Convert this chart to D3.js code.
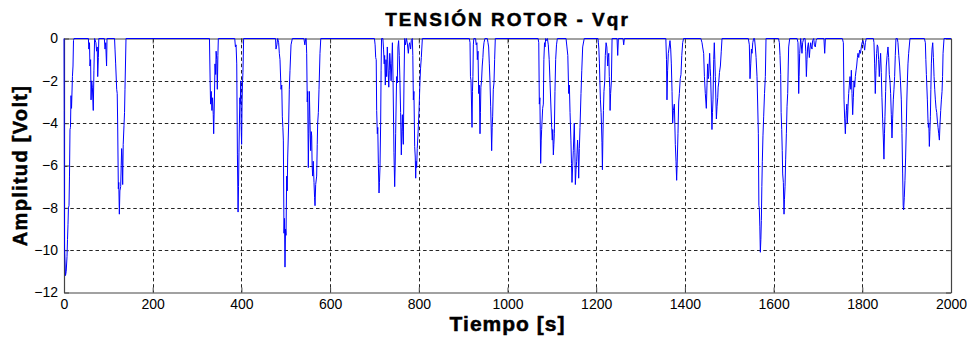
<!DOCTYPE html>
<html>
<head>
<meta charset="utf-8">
<script src="https://cdn.jsdelivr.net/npm/d3@7"></script>
<style>
  html, body { margin: 0; padding: 0; background: #fff; }
  svg { display: block; }
  text { font-family: "Liberation Sans", Arial, Helvetica, sans-serif; }
</style>
</head>
<body>
<svg id="chart" width="967" height="337"></svg>
<script>
// Rotor voltage Vqr samples: time [s] and amplitude [V]
const tiempo = [
  0, 0.5, 1.2, 3.4, 5, 6.8, 7.9, 9, 10, 11.3, 12.4, 13.5, 14.6, 15.8, 17, 19, 20.3, 21.4, 22.5,
  55, 56, 57.5, 58.5, 60, 61, 62.5, 64, 66, 67.5, 69, 72, 73.5, 75, 76, 77.5, 78.5, 91, 92.5, 94, 96, 97,
  114, 115, 116.5, 118.8, 120, 121, 122.5, 123.5, 124.8, 126, 127.8, 129, 130, 131, 132.3, 133.5, 135.3, 136.5, 137.5, 139.8,
  328, 329.5, 330.5, 332, 333.5, 335, 336.5, 337.5, 339, 340.5, 342, 343, 344.5, 345.7, 347, 348,
  385, 386.5, 388, 389.5, 391, 392.5, 393.5, 394.5, 395.5, 396.5, 397.5, 398.5, 399.5, 400.5, 401.5, 402.5, 403.5, 405,
  477, 478, 480, 481.8, 484, 485.5, 487, 489.3, 491, 492.3, 493.5, 494.6, 496, 497.2, 498.3, 499.5, 500.6, 502.1, 503.3, 504.4, 506.6, 508, 509.6, 511.9, 514.9,
  541, 543, 545,
  546, 547.2, 548.5, 549.5, 550.9, 552, 553.2, 554.5, 556.2, 557.5, 558.5, 559.5, 560.7, 562, 563.7, 565, 566, 567.5, 569.7, 571, 572, 573.5, 575, 577.2, 579,
  700, 701.5, 702.8, 704, 705, 706.5, 707.5, 708.8, 710.3, 711.3, 712.5, 714, 715, 716, 719, 720.5, 722, 723, 724.5, 726, 727.5, 729, 730, 732.3, 733.5, 734.5, 736, 737.5, 739, 740.5,
  742, 744, 745.6, 746.7, 747.8, 749, 750, 751.5, 753, 754.5, 756, 757.6, 759, 760.6, 762, 762.9, 764, 765.1, 766.6, 768.1, 770, 772, 774, 776.4, 778, 779.4, 781.6, 783, 785.4,
  786.5, 787.7, 789, 790.7, 792, 793, 794, 795.2, 796.5, 798.2, 800.5, 802.7, 804, 805.7, 808,
  914, 915.5, 916.5, 917.7, 918.8, 920, 921, 922, 923, 924, 928, 929.5, 931, 932, 933.5, 935, 936.5, 938, 939, 940, 941.5, 943, 944.5, 945.5, 947, 949,
  954.5, 956, 957.5, 959, 960.5, 962, 963, 964.3, 965.5, 966.5, 968, 969.5, 971, 972.5,
  1069, 1070.5, 1071.8, 1073, 1074.8, 1076, 1077, 1079.3, 1080.8, 1082, 1083.5, 1084.6, 1086, 1088.3, 1090, 1092, 1094, 1095.8, 1097.5, 1099.6, 1101, 1102, 1103.4, 1104.5, 1105.6, 1107, 1108.6, 1110.5, 1112.4,
  1132, 1134, 1136, 1138, 1139.5, 1141, 1143, 1144.3, 1145.4, 1147, 1148.4, 1150.6, 1152, 1153, 1154.5, 1156, 1158, 1159.5, 1160.5, 1162, 1163.5, 1165.7, 1167.5, 1169.5, 1173,
  1204, 1205, 1206, 1207.3, 1208.5, 1209.5, 1211, 1211.8, 1213, 1214, 1215, 1216.3, 1217.5, 1219.3, 1220.5, 1222.3, 1224, 1226, 1227, 1228.3, 1229.5, 1230.5, 1231.3, 1232.5, 1234.3, 1235.8,
  1247, 1248.5, 1250, 1260.5, 1262, 1263.5,
  1357, 1358.5, 1359.6, 1361, 1362.6, 1364, 1366.4, 1368, 1369.4, 1371, 1372.4, 1374, 1376.2, 1378.4, 1380, 1381.4, 1383, 1384.4, 1386, 1387.5, 1389.5, 1391.2, 1393, 1395, 1397,
  1436, 1438.6, 1440, 1442.3, 1444, 1446, 1448.3, 1449.8, 1451.3, 1452.5, 1453.5, 1455.8, 1457, 1458, 1459.5, 1461, 1462.2, 1463.3, 1465, 1466.3, 1467.5, 1468.6, 1470, 1471, 1472.5, 1474, 1475, 1476.2, 1478, 1480, 1482, 1483.7,
  1543, 1545.3, 1546.8, 1548.5, 1550, 1551.3, 1553, 1555, 1557, 1558.8, 1560.5, 1562.6, 1564, 1565.6, 1566.8, 1567.8, 1569, 1570.1, 1571.3, 1572.4, 1573.5, 1574.6, 1576, 1577.6, 1579.5, 1581.4, 1582.9,
  1611, 1613, 1614.5, 1616, 1617, 1618.3, 1619.5, 1620.5, 1622, 1623.5, 1624.5, 1625.8, 1627.2, 1628.8, 1630.3, 1631.8, 1633, 1634, 1636.3,
  1653, 1655, 1656.6, 1657.5, 1658.8, 1661, 1662.5, 1664, 1665.5, 1667.8, 1671, 1672.5, 1673.9, 1675.3, 1676.8, 1678.5, 1680.6, 1682, 1683.6, 1685, 1686.6, 1688, 1690.4, 1692, 1694, 1695.8, 1697.9,
  1713.5, 1715.2, 1716.8,
  1755, 1757.3, 1758.8, 1760.3, 1761.8, 1763, 1764, 1765.2, 1766.3, 1767.8, 1769.3, 1770.8, 1772.3, 1774, 1775.3, 1776.8, 1778.3, 1779.8, 1781.3, 1782.8, 1784.3, 1786, 1787.3, 1789, 1790.3, 1792, 1794, 1796, 1797.8, 1799.5, 1801.5, 1803.5, 1805.3, 1807, 1809,
  1825, 1826.3, 1827.8, 1829.3, 1830.8, 1832.3, 1833.8, 1835.3, 1836.8, 1838.3, 1839.8, 1841.3, 1842.8, 1844.3, 1845.8, 1847.4, 1848.8, 1850, 1851.1, 1852.6, 1854.1, 1856, 1857.9, 1859.4, 1860.9, 1862.4, 1863.9, 1865.4, 1866.9, 1868.4, 1869.9, 1871.4, 1872.9, 1874.4, 1875.9,
  1879, 1880.4, 1882.3, 1884.2, 1886, 1888, 1889.5, 1891, 1892.2, 1893.2, 1894.7, 1896.2, 1897.7, 1899.2, 1900.3, 1901.5, 1903, 1904.5, 1907.5,
  1940, 1942.2, 1943.3, 1944.5, 1946.7, 1948, 1949, 1950, 1951.2, 1952.4, 1953.5, 1954.6, 1955.7, 1957.2, 1958.8, 1960.3, 1961.8, 1963.3, 1964.8, 1966.3, 1967.8, 1969.3, 1970.8, 1972.3, 1973.8, 1975.3, 1976.8, 1978.3, 1979.8, 1981, 1982.1, 1984.3, 2000
];
const vqr = [
  0, -3.4, -9.9, -11.2, -11.0, -10.3, -9.5, -8.8, -8.0, -7.9, -6.5, -4.3, -4.2, -2.7, -3.3, -1.8, -1.3, -0.1, 0,
  0, -0.5, -0.2, -1.3, -1.0, -2.9, -2.0, -2.3, -3.4, -1.5, 0, -0.2, -0.6, -0.4, -1.8, -0.9, 0, 0, -0.5, -0.2, -1.3, 0,
  0, -0.5, -1.2, -2.4, -2.6, -4.0, -7.1, -6.8, -8.3, -7.2, -7.0, -6.0, -5.2, -5.6, -6.9, -5.0, -4.1, -3.5, -2.4, 0,
  0, -2.0, -3.1, -2.5, -3.4, -2.8, -3.6, -4.5, -3.0, -1.2, -1.7, -0.6, -1.0, -2.4, -0.8, 0,
  0, -0.4, -0.3, -1.2, -5.5, -8.2, -7.0, -5.4, -4.0, -2.8, -3.1, -2.0, -4.2, -5.0, -3.0, -2.1, -1.6, 0,
  0, -0.5, -0.3, 0, -0.2, -0.7, -1.0, -2.4, -2.2, -3.7, -4.2, -4.8, -9.2, -8.5, -10.8, -9.0, -9.3, -6.5, -7.2, -5.6, -4.0, -2.4, -1.5, -0.3, 0,
  0, -0.3, 0,
  0, -0.7, -3.0, -2.5, -6.1, -4.5, -2.5, -3.8, -5.3, -4.4, -4.6, -6.0, -6.5, -5.8, -6.8, -7.5, -7.9, -6.9, -6.5, -5.0, -4.0, -3.5, -2.4, -0.7, 0,
  0, -0.3, -0.9, -1.0, -3.4, -4.5, -4.2, -5.9, -7.3, -6.8, -6.1, -4.0, -1.5, 0, 0, -0.5, -1.2, -0.8, -2.2, -1.0, -1.8, -0.4, -1.0, -2.3, -1.5, -0.7, -1.2, -2.0, -1.2, -0.2,
  -2.0, -5.4, -7.0, -6.0, -4.5, -3.0, -1.8, -2.1, -0.4, -0.1, -0.8, -2.1, -3.5, -5.5, -4.2, -3.6, -4.4, -5.0, -2.1, 0, -0.3, 0, -0.2, -0.7, -0.3, -0.2, -0.5, -0.1, 0,
  -0.8, -2.9, -2.5, -5.1, -5.6, -6.6, -5.8, -6.1, -5.2, -4.5, -3.4, -2.0, -1.4, -0.9, 0,
  0, -0.2, -1.8, -2.0, -3.0, -4.2, -2.5, -1.8, -0.3, 0, 0, -0.3, -0.2, -1.0, -0.6, -2.6, -2.2, -4.5, -3.5, -2.3, -2.0, -1.3, -0.9, -0.5, -0.2, 0,
  0, -0.2, -0.4, -1.2, -2.0, -3.2, -4.0, -5.3, -4.2, -3.7, -2.4, -2.1, -1.0, 0,
  0, -0.2, -3.1, -2.8, -5.9, -4.8, -4.3, -3.3, -3.1, -1.0, -0.2, -0.4, 0, -0.1, 0, -0.3, -1.0, -2.0, -3.0, -4.2, -4.8, -4.3, -5.5, -5.0, -4.5, -2.5, -1.0, -0.3, 0,
  0, -0.4, -0.8, -2.6, -2.2, -3.5, -4.8, -5.9, -6.8, -6.0, -5.3, -4.0, -5.4, -6.9, -6.2, -5.8, -4.8, -5.5, -6.6, -5.2, -4.2, -2.6, -1.5, -0.4, 0,
  0, -0.2, -0.5, -1.2, -2.2, -2.9, -3.5, -4.0, -4.9, -6.2, -4.8, -3.4, -2.5, -2.0, -0.8, -0.2, -0.4, -1.3, -0.9, -0.7, -1.8, -2.3, -3.4, -2.6, -2.0, 0,
  0, -0.8, 0, 0, -0.3, 0,
  0, -1.0, -2.9, -1.5, -0.7, -0.5, -0.1, -0.5, -1.2, -2.5, -4.0, -3.4, -3.1, -5.0, -5.8, -6.7, -5.6, -4.5, -3.0, -2.6, -1.9, -1.7, -0.8, -0.2, 0,
  0, -0.2, -0.4, -0.7, -1.8, -2.6, -3.3, -2.2, -1.2, -1.9, -1.8, -0.7, -1.4, -1.8, -3.0, -4.3, -3.5, -2.9, -1.0, -0.2, -1.0, -1.8, -3.0, -3.8, -3.2, -2.8, -2.3, -2.1, -1.6, -1.3, -0.6, 0,
  0, -0.3, -1.9, -1.2, -0.5, -0.7, -0.2, 0, 0, -0.4, -0.9, -1.8, -3.0, -4.5, -7.9, -8.0, -8.9, -10.1, -9.5, -8.6, -7.0, -5.8, -4.6, -3.7, -2.6, -1.8, 0,
  0, -0.2, -0.8, -1.7, -3.5, -4.3, -5.3, -6.4, -6.8, -8.3, -7.6, -7.0, -5.7, -4.5, -3.2, -2.6, -1.3, -0.4, 0,
  0, -0.2, -2.6, -1.8, -0.7, 0, -0.3, -0.7, -0.2, 0, 0, -0.6, -1.8, -1.0, -0.4, -0.2, -0.9, -0.5, -0.2, -0.4, -0.5, -0.1, 0, -0.3, -0.4, -0.1, 0,
  0, -0.7, 0,
  0, -0.2, -2.9, -3.8, -4.5, -3.8, -3.4, -3.1, -4.0, -3.2, -2.6, -2.2, -1.8, -2.4, -1.5, -2.6, -3.6, -2.8, -2.0, -2.3, -1.8, -1.5, -1.3, -0.9, -0.7, -0.9, -0.55, -0.7, -0.4, -0.2, -0.1, -0.3, -0.55, -0.2, 0,
  0, -0.2, -1.2, -2.6, -1.5, -0.7, -0.3, -0.4, -1.0, -1.8, -1.2, -0.7, -1.6, -2.8, -3.8, -4.7, -5.7, -4.5, -3.7, -2.5, -1.3, -0.8, -0.4, -0.9, -1.7, -2.0, -2.6, -3.6, -4.7, -3.8, -2.9, -2.4, -1.8, -0.8, 0,
  0, -0.2, -0.8, -1.3, -2.0, -2.9, -4.5, -6.4, -7.9, -8.1, -7.5, -6.7, -5.6, -4.2, -3.0, -2.1, -1.2, -0.7, 0,
  0, -0.2, -1.0, -1.7, -2.9, -3.8, -4.2, -4.0, -5.1, -4.4, -3.7, -2.4, -1.2, -0.5, -0.2, -0.9, -1.8, -2.4, -2.9, -3.3, -3.5, -3.9, -4.2, -4.5, -4.8, -4.0, -3.4, -2.9, -2.5, -1.8, -0.7, 0, 0
];

// Axis ticks
const xTicks = [0, 200, 400, 600, 800, 1000, 1200, 1400, 1600, 1800, 2000];
const yTicks = [0, -2, -4, -6, -8, -10, -12];

const titulo = "TENSIÓN ROTOR - Vqr";
const etiquetaX = "Tiempo [s]";
const etiquetaY = "Amplitud [Volt]";

const svg = d3.select("#chart");
const W = 967, H = 337;
const margin = { left: 64, right: W - 951, top: 38.5, bottom: H - 292.5 };
const iw = W - margin.left - margin.right;
const ih = H - margin.top - margin.bottom;

const x = d3.scaleLinear().domain([0, 2000]).range([margin.left, margin.left + iw]);
const y = d3.scaleLinear().domain([-12, 0]).range([margin.top + ih, margin.top]);

svg.append("rect").attr("width", W).attr("height", H).attr("fill", "#fff");

// dotted grid
const grid = svg.append("g")
  .attr("stroke", "#000")
  .attr("stroke-width", 1)
  .attr("stroke-dasharray", "3.5,2.8")
  .attr("opacity", 0.85);
grid.selectAll("line.v")
  .data(xTicks.filter(d => d > 0 && d < 2000))
  .join("line")
  .attr("x1", d => Math.round(x(d)) + 0.5).attr("x2", d => Math.round(x(d)) + 0.5)
  .attr("y1", margin.top).attr("y2", margin.top + ih);
grid.selectAll("line.h")
  .data(yTicks.filter(d => d > -12 && d < 0))
  .join("line")
  .attr("y1", d => Math.round(y(d)) + 0.5).attr("y2", d => Math.round(y(d)) + 0.5)
  .attr("x1", margin.left).attr("x2", margin.left + iw);

// axes with inward ticks
const tickFont = 14;
const gx = svg.append("g")
  .attr("transform", `translate(0,${margin.top + ih})`)
  .call(d3.axisBottom(x).tickValues(xTicks).tickFormat(d3.format("d")).tickSizeInner(-5).tickSizeOuter(0).tickPadding(7));
const gxTop = svg.append("g")
  .attr("transform", `translate(0,${margin.top})`)
  .call(d3.axisTop(x).tickValues(xTicks).tickFormat("").tickSizeInner(-5).tickSizeOuter(0));
const gy = svg.append("g")
  .attr("transform", `translate(${margin.left},0)`)
  .call(d3.axisLeft(y).tickValues(yTicks).tickFormat(d3.format("d")).tickSizeInner(-5).tickSizeOuter(0).tickPadding(6));
const gyRight = svg.append("g")
  .attr("transform", `translate(${margin.left + iw},0)`)
  .call(d3.axisRight(y).tickValues(yTicks).tickFormat("").tickSizeInner(-5).tickSizeOuter(0));

[gx, gxTop, gy, gyRight].forEach(g => {
  g.select(".domain").attr("stroke", "#444").attr("stroke-width", 1.2);
  g.selectAll(".tick line").attr("stroke", "#444");
  g.selectAll(".tick text")
    .attr("fill", "#000")
    .attr("font-size", tickFont)
    .attr("font-family", "'Liberation Sans', Arial, sans-serif");
});

// signal
const datos = tiempo.map((t, i) => [t, vqr[i]]);
const linea = d3.line().x(d => x(d[0])).y(d => y(d[1]));
svg.append("path")
  .datum(datos)
  .attr("fill", "none")
  .attr("stroke", "#0000ff")
  .attr("stroke-width", 1)
  .attr("stroke-linejoin", "miter")
  .attr("d", linea);

// titles
const cx = margin.left + iw / 2;
svg.append("text")
  .attr("x", cx).attr("y", 26)
  .attr("text-anchor", "middle")
  .attr("font-size", 19).attr("font-weight", "bold")
  .attr("letter-spacing", 2)
  .attr("stroke", "#000").attr("stroke-width", 0.5)
  .text(titulo);
svg.append("text")
  .attr("x", cx).attr("y", 331)
  .attr("text-anchor", "middle")
  .attr("font-size", 21).attr("font-weight", "bold")
  .attr("letter-spacing", 1)
  .attr("stroke", "#000").attr("stroke-width", 0.5)
  .text(etiquetaX);
svg.append("text")
  .attr("transform", `translate(27,${margin.top + ih / 2}) rotate(-90)`)
  .attr("text-anchor", "middle")
  .attr("font-size", 20).attr("font-weight", "bold")
  .attr("letter-spacing", 1.3)
  .attr("stroke", "#000").attr("stroke-width", 0.5)
  .text(etiquetaY);
</script>
</body>
</html>
